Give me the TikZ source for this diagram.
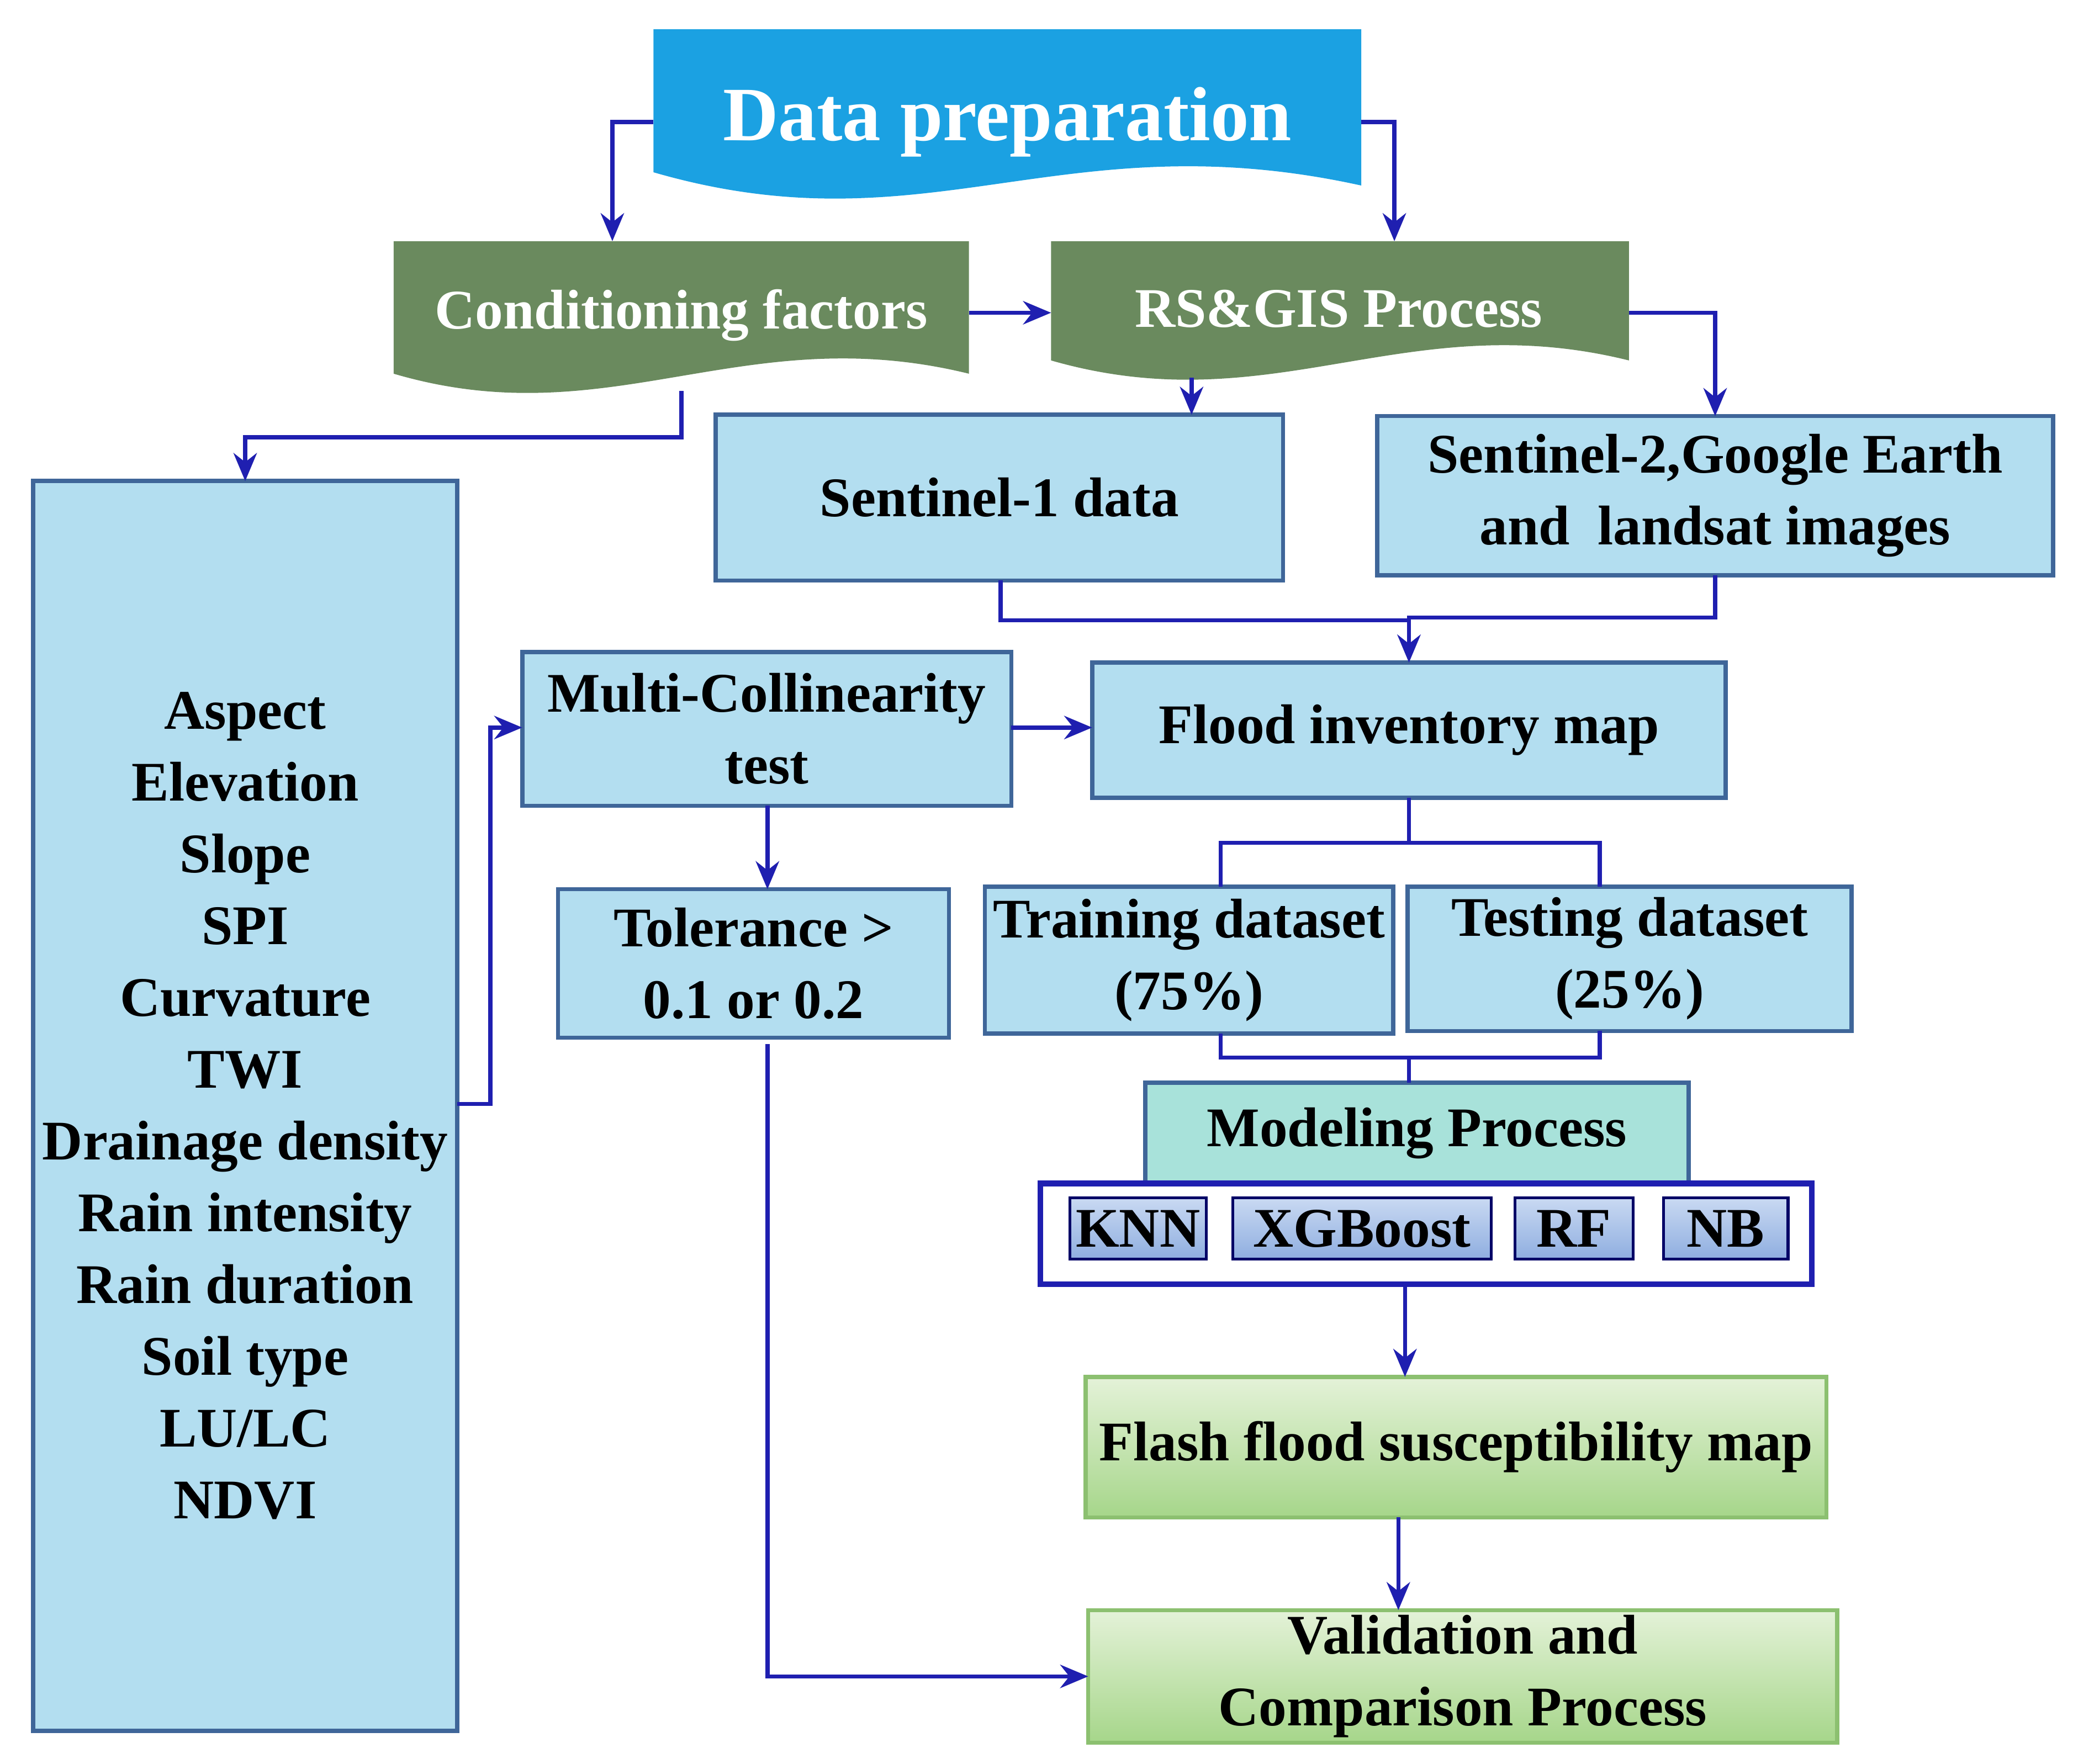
\documentclass[tikz,border=0pt]{standalone}
\usepackage{fontspec}
\setmainfont{Liberation Serif}
\usetikzlibrary{arrows.meta}
\begin{document}
\begin{tikzpicture}[x=0.01cm,y=-0.01cm,
  txt/.style={font=\bfseries\fontsize{12}{15.4}\selectfont,align=center,text=black},
  lb/.style={draw=cyan!50!blue!70!black,line width=0.9pt,fill=lbfill},
  wire/.style={draw=wirec,line width=0.9pt},
  arr/.style={wire,-{Stealth[length=6pt,width=5pt]}},
  btn/.style={draw=blue!40!black,line width=0.6pt,top color=btntop,bottom color=btnbot},
  grn/.style={draw=grnb,line width=0.9pt,top color=grntop,bottom color=grnbot}]
\definecolor{lbfill}{HTML}{B3DEF0}
\definecolor{wirec}{HTML}{1F1FB0}
\definecolor{dpblue}{HTML}{1BA1E2}
\definecolor{gfill}{HTML}{6A8A5E}
\definecolor{btntop}{HTML}{C9D9F2}
\definecolor{btnbot}{HTML}{8FAEE0}
\definecolor{grntop}{HTML}{E4F2D8}
\definecolor{grnbot}{HTML}{A6D68A}
\definecolor{grnb}{HTML}{8CC070}
\definecolor{teal}{HTML}{A8E2DA}
\useasboundingbox (0,0) rectangle (1564,1331);
\newcommand\rbox[7]{\node[#6,minimum width={(#4-#2)*0.01cm},minimum height={(#5-#3)*0.01cm},inner sep=0pt,outer sep=0pt] (#1) at ({(#2+#4)/2},{(#3+#5)/2}) {#7};}
% wave shapes
\fill[dpblue] (493,22) -- (1027,22) -- (1027,140) .. controls (800,90) and (700,190) .. (493,130) -- cycle;
\fill[gfill] (297,182) -- (731,182) -- (731,282) .. controls (560,240) and (460,330) .. (297,282) -- cycle;
\fill[gfill] (793,182) -- (1229,182) -- (1229,272) .. controls (1060,230) and (960,320) .. (793,272) -- cycle;
\rbox{dp}{493}{22}{1027}{150}{}{}
\node[font=\bfseries\fontsize{16.5}{20}\selectfont,text=white] at (760,92) {Data preparation};
\rbox{cf}{297}{182}{731}{295}{}{}
\node[txt,text=white] at (514,238) {Conditioning factors};
\rbox{rs}{793}{182}{1229}{285}{}{}
\node[txt,text=white] at (1010,233) {RS\&GIS Process};
% boxes
\rbox{s1}{540}{313}{968}{438}{lb,txt}{Sentinel-1 data}
\rbox{s2}{1039}{314}{1549}{434}{lb,txt}{Sentinel-2,Google Earth\\and\ \ landsat images}
\rbox{lst}{25}{363}{345}{1306}{lb,txt}{Aspect\\Elevation\\Slope\\SPI\\Curvature\\TWI\\Drainage density\\Rain intensity\\Rain duration\\Soil type\\LU/LC\\NDVI}
\rbox{mc}{394}{492}{763}{608}{lb,txt}{Multi-Collinearity\\test}
\rbox{fi}{824}{500}{1302}{602}{lb,txt}{Flood inventory map}
\rbox{tol}{421}{671}{716}{783}{lb,txt}{Tolerance >\\0.1 or 0.2}
\rbox{tr}{743}{669}{1051}{780}{lb,txt}{Training dataset\\(75\%)}
\rbox{te}{1062}{669}{1397}{778}{lb,txt}{Testing dataset\\(25\%)}
\rbox{mp}{864}{817}{1274}{893}{draw=cyan!50!blue!70!black,line width=0.9pt,fill=teal,txt}{Modeling Process}
\rbox{mb}{785}{893}{1367}{969}{draw=wirec,line width=1.2pt,fill=white}{}
\rbox{knn}{807}{904}{910}{950}{btn,txt}{KNN}
\rbox{xgb}{930}{904}{1125}{950}{btn,txt}{XGBoost}
\rbox{rf}{1143}{904}{1232}{950}{btn,txt}{RF}
\rbox{nb}{1255}{904}{1349}{950}{btn,txt}{NB}
\rbox{ff}{819}{1039}{1378}{1145}{grn,txt}{Flash flood susceptibility map}
\rbox{va}{821}{1215}{1386}{1315}{grn,txt}{Validation and\\Comparison Process}
% helper coordinates
\coordinate (h92) at (0,92);
\coordinate (h236) at (0,236);
\coordinate (h833) at (0,833);
\coordinate (h549) at (0,549);
\coordinate (h1265) at (0,1265);
\coordinate (v462) at (462,0);
\coordinate (v1052) at (1052,0);
\coordinate (v1294) at (1294,0);
\coordinate (v899) at (899,0);
\coordinate (v185) at (185,0);
\coordinate (v755) at (755,0);
\coordinate (v1063) at (1063,0);
\coordinate (v579) at (579,0);
\coordinate (v921) at (921,0);
\coordinate (v1207) at (1207,0);
\coordinate (v1060) at (1060,0);
\coordinate (v1055) at (1055,0);
% connectors
\draw[arr] (dp.west |- h92) -- (462,92) -- (v462 |- cf.north);
\draw[arr] (dp.east |- h92) -- (1052,92) -- (v1052 |- rs.north);
\draw[arr] (cf.east |- h236) -- (rs.west |- h236);
\draw[arr] (rs.east |- h236) -- (1294,236) -- (v1294 |- s2.north);
\draw[arr] (899,285) -- (v899 |- s1.north);
\draw[arr] (514,295) -- (514,330) -- (185,330) -- (v185 |- lst.north);
\draw[wire] (v755 |- s1.south) -- (755,468) -- (1063,468);
\draw[arr] (v1294 |- s2.south) -- (1294,466) -- (1063,466) -- (v1063 |- fi.north);
\draw[arr] (lst.east |- h833) -- (370,833) -- (370,549) -- (mc.west |- h549);
\draw[arr] (mc.east |- h549) -- (fi.west |- h549);
\draw[arr] (v579 |- mc.south) -- (v579 |- tol.north);
\draw[wire] (v1063 |- fi.south) -- (1063,636);
\draw[wire] (v921 |- tr.north) -- (921,636) -- (1207,636) -- (v1207 |- te.north);
\draw[wire] (v921 |- tr.south) -- (921,798) -- (1207,798) -- (v1207 |- te.south);
\draw[wire] (1063,798) -- (v1063 |- mp.north);
\draw[arr] (v1060 |- mb.south) -- (v1060 |- ff.north);
\draw[arr] (v1055 |- ff.south) -- (v1055 |- va.north);
\draw[arr] (579,788) -- (579,1265) -- (va.west |- h1265);
\end{tikzpicture}
\end{document}
